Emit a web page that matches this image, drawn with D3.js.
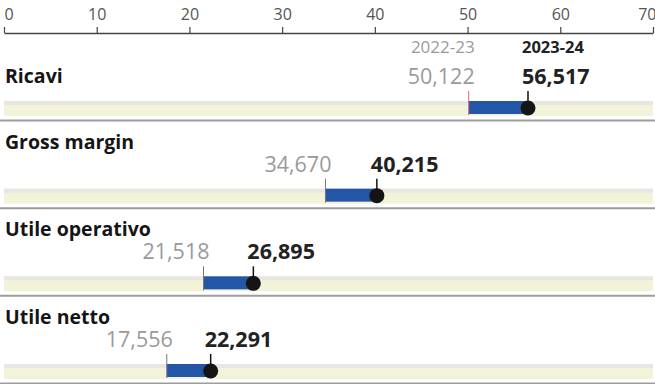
<!DOCTYPE html>
<html>
<head>
<meta charset="utf-8">
<script src="https://cdn.jsdelivr.net/npm/d3@7"></script>
<style>
  body { margin: 0; background: #fff; }
  svg { display: block; font-family: "Open Sans", sans-serif; }
</style>
</head>
<body>
<svg id="chart" width="655" height="384"></svg>
<script>
var categories = ["Ricavi", "Gross margin", "Utile operativo", "Utile netto"]
var prev = [50.122, 34.670, 21.518, 17.556]
var curr = [56.517, 40.215, 26.895, 22.291]
var years = ["2022-23", "2023-24"]
var tickValues = [0, 10, 20, 30, 40, 50, 60, 70]

var svg = d3.select('#chart')
var width = +svg.attr('width')

var x = d3.scaleLinear().domain([0, 70]).range([4, 653])
// top of each row's band
var rowTop = d3.scaleLinear().domain([0, categories.length - 1]).range([101, 364])
var bandH = 15

var fmt = function (v) {
    return d3.format('.3f')(v).replace('.', ',')
}

// axis on top
var axis = svg.append('g')
    .attr('transform', 'translate(0,33)')
    .call(d3.axisTop(x).tickValues(tickValues).tickSize(6).tickSizeOuter(0).tickPadding(7))
axis.select('.domain').attr('stroke', '#444').attr('stroke-width', 1.5)
axis.selectAll('.tick line').attr('stroke', '#444').attr('stroke-width', 1.2)
axis.selectAll('.tick text')
    .attr('font-family', '"Open Sans", sans-serif')
    .attr('font-size', 16)
    .attr('fill', '#555')
    .attr('text-anchor', function (d) { return d === 0 ? 'start' : (d === 70 ? 'end' : 'middle') })
    .attr('dx', function (d) { return d === 70 ? 3 : 0 })

// year labels
svg.append('text')
    .attr('x', x(prev[0]) + 6).attr('y', 53)
    .attr('text-anchor', 'end')
    .attr('font-size', 17).attr('fill', '#9a9a9a')
    .text(years[0])
svg.append('text')
    .attr('x', x(curr[0]) - 6).attr('y', 53)
    .attr('font-size', 16.5).attr('font-weight', 'bold').attr('fill', '#222')
    .text(years[1])

var rows = svg.append('g').selectAll('g')
    .data(categories)
    .enter()
    .append('g')

// separator lines
rows.append('line')
    .attr('x1', 0).attr('x2', width)
    .attr('y1', function (d, i) { return rowTop(i) + bandH + 4.5 })
    .attr('y2', function (d, i) { return rowTop(i) + bandH + 4.5 })
    .attr('stroke', '#9d9d9d').attr('stroke-width', 2)

// background band
rows.append('rect')
    .attr('x', x(0)).attr('width', x(70) - x(0))
    .attr('y', function (d, i) { return rowTop(i) })
    .attr('height', bandH)
    .attr('fill', '#f2f3d9')
rows.append('rect')
    .attr('x', x(0)).attr('width', x(70) - x(0))
    .attr('y', function (d, i) { return rowTop(i) })
    .attr('height', 4)
    .attr('fill', '#e6e6e3')

// titles
rows.append('text')
    .attr('x', 5)
    .attr('y', function (d, i) { return i === 0 ? rowTop(i) - 18 : rowTop(i) - 40 })
    .attr('font-size', 19.5).attr('font-weight', 'bold').attr('fill', '#151515')
    .text(function (d) { return d })

// blue bar
rows.append('rect')
    .attr('x', function (d, i) { return x(prev[i]) })
    .attr('width', function (d, i) { return x(curr[i]) - x(prev[i]) })
    .attr('y', function (d, i) { return rowTop(i) })
    .attr('height', 13)
    .attr('fill', '#2456a8')

// start tick
rows.append('line')
    .attr('x1', function (d, i) { return x(prev[i]) })
    .attr('x2', function (d, i) { return x(prev[i]) })
    .attr('y1', function (d, i) { return rowTop(i) - 10 })
    .attr('y2', function (d, i) { return rowTop(i) + 14 })
    .attr('stroke', function (d, i) { return i === 0 ? '#e0607a' : '#777' })
    .attr('stroke-width', 1)

// end tick
rows.append('line')
    .attr('x1', function (d, i) { return x(curr[i]) })
    .attr('x2', function (d, i) { return x(curr[i]) })
    .attr('y1', function (d, i) { return rowTop(i) - 10 })
    .attr('y2', function (d, i) { return rowTop(i) + 7 })
    .attr('stroke', '#111')
    .attr('stroke-width', 1.5)

// dot
rows.append('circle')
    .attr('cx', function (d, i) { return x(curr[i]) })
    .attr('cy', function (d, i) { return rowTop(i) + 7 })
    .attr('r', 7.5)
    .attr('fill', '#151515')

// value labels
rows.append('text')
    .attr('x', function (d, i) { return x(prev[i]) + 6 })
    .attr('y', function (d, i) { return rowTop(i) - 17 })
    .attr('text-anchor', 'end')
    .attr('font-size', 21.5).attr('fill', '#9a9a9a')
    .text(function (d, i) { return fmt(prev[i]) })
rows.append('text')
    .attr('x', function (d, i) { return x(curr[i]) - 6 })
    .attr('y', function (d, i) { return rowTop(i) - 17 })
    .attr('font-size', 21.5).attr('font-weight', 'bold').attr('fill', '#222')
    .text(function (d, i) { return fmt(curr[i]) })
</script>
</body>
</html>
